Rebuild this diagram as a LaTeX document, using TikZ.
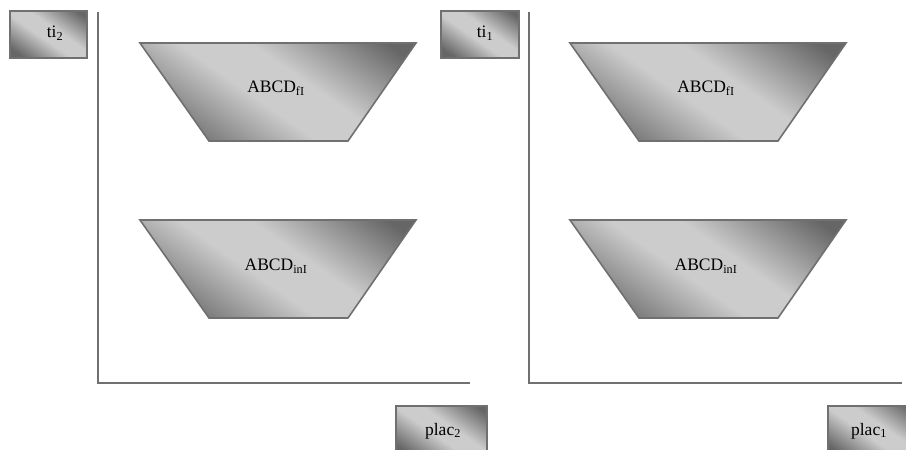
\documentclass[tikz,border=0pt]{standalone}
\usepackage{fontspec}
\setmainfont{Liberation Serif}
\definecolor{edgegray}{HTML}{707070}
\definecolor{darkg}{HTML}{666666}
\definecolor{lightg}{HTML}{CCCCCC}
\pgfdeclarehorizontalshading{diaggrad}{100bp}{color(0bp)=(darkg); color(22bp)=(darkg); color(45bp)=(lightg); color(57bp)=(lightg); color(80bp)=(darkg); color(100bp)=(darkg)}
\tikzset{
  trap/.style={draw=edgegray, line width=1.6pt, shading=diaggrad, shading angle=55},
  lab/.style={draw=edgegray, line width=2pt, shading=diaggrad, shading angle=55, anchor=north west, inner sep=0pt},
  axis/.style={draw=edgegray, line width=2.6pt},
  txt/.style={font=\fontsize{17.5}{20}\selectfont, inner sep=0pt}
}
\begin{document}
\begin{tikzpicture}[x=1pt,y=-1pt]
\useasboundingbox (0,0) rectangle (906,450);
\clip (0,0) rectangle (906,450);
% left panel
\coordinate (lt) at (98,12);
\coordinate (lo) at (98,383);
\coordinate (le) at (470,383);
\draw[axis] (lt) -- (lo) -- (le);
\path[trap] (140,43) -- (416,43) -- (348,141) -- (209,141) -- cycle;
\node[txt] (lf) at (276,88) {ABCD\textsubscript{fI}};
\path[trap] (140,220) -- (416,220) -- (348,318) -- (209,318) -- cycle;
\node[txt] (li) at (276,266) {ABCD\textsubscript{inI}};
\node[lab, minimum width=77pt, minimum height=47pt] (ti2) at (9,10) {};
\node[txt] (ti2t) at (55,33) {ti\textsubscript{2}};
\node[lab, minimum width=91pt, minimum height=50pt] (plac2) at (395,405) {};
\node[txt] (plac2t) at (443,431) {plac\textsubscript{2}};
% right panel
\coordinate (rt) at (529,12);
\coordinate (ro) at (529,383);
\coordinate (re) at (902,383);
\draw[axis] (rt) -- (ro) -- (re);
\path[trap] (570,43) -- (846,43) -- (778,141) -- (639,141) -- cycle;
\node[txt] (rf) at (706,88) {ABCD\textsubscript{fI}};
\path[trap] (570,220) -- (846,220) -- (778,318) -- (639,318) -- cycle;
\node[txt] (ri) at (706,266) {ABCD\textsubscript{inI}};
\node[lab, minimum width=78pt, minimum height=47pt] (ti1) at (440,10) {};
\node[txt] (ti1t) at (485,33) {ti\textsubscript{1}};
\node[lab, minimum width=90pt, minimum height=50pt] (plac1) at (827,405) {};
\node[txt] (plac1t) at (869,431) {plac\textsubscript{1}};
\end{tikzpicture}
\end{document}
